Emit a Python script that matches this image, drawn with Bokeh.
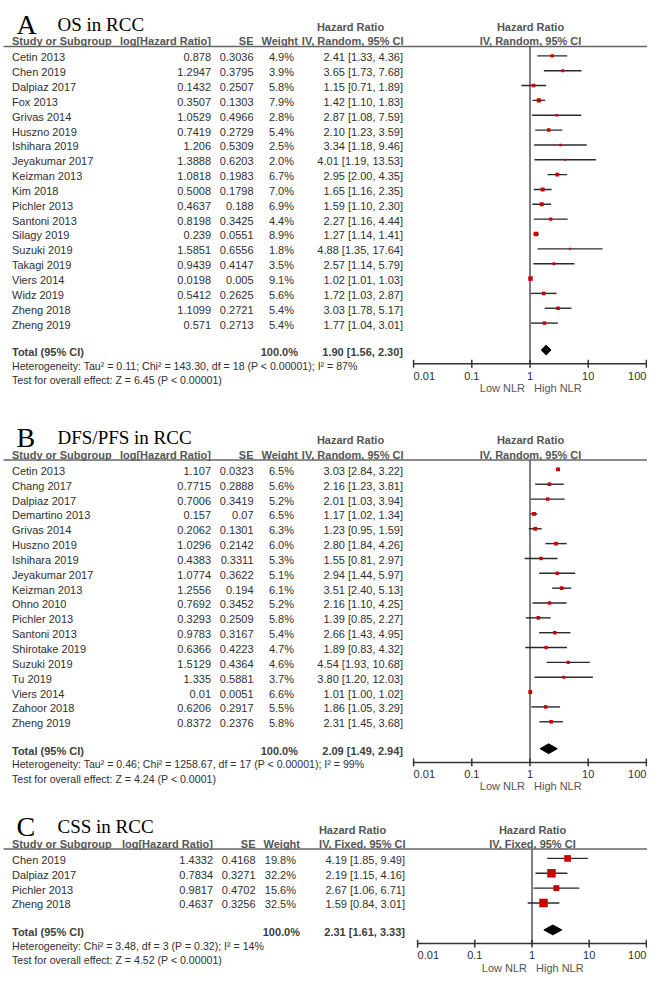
import numpy as np
from bokeh.plotting import figure
from bokeh.models import Range1d, LogScale
from bokeh.core.properties import value
from bokeh.embed import file_html
from bokeh.resources import INLINE

# ---------------- data ----------------
a_study = ["Cetin 2013", "Chen 2019", "Dalpiaz 2017", "Fox 2013", "Grivas 2014", "Huszno 2019",
           "Ishihara 2019", "Jeyakumar 2017", "Keizman 2013", "Kim 2018", "Pichler 2013",
           "Santoni 2013", "Silagy 2019", "Suzuki 2019", "Takagi 2019", "Viers 2014",
           "Widz 2019", "Zheng 2018", "Zheng 2019"]
a_loghr = [0.878, 1.2947, 0.1432, 0.3507, 1.0529, 0.7419, 1.206, 1.3888, 1.0818, 0.5008, 0.4637,
           0.8198, 0.239, 1.5851, 0.9439, 0.0198, 0.5412, 1.1099, 0.571]
a_se = [0.3036, 0.3795, 0.2507, 0.1303, 0.4966, 0.2729, 0.5309, 0.6203, 0.1983, 0.1798, 0.188,
        0.3425, 0.0551, 0.6556, 0.4147, 0.005, 0.2625, 0.2721, 0.2713]
a_weight = [4.9, 3.9, 5.8, 7.9, 2.8, 5.4, 2.5, 2.0, 6.7, 7.0, 6.9, 4.4, 8.9, 1.8, 3.5, 9.1, 5.6, 5.4, 5.4]
a_hr = [2.41, 3.65, 1.15, 1.42, 2.87, 2.10, 3.34, 4.01, 2.95, 1.65, 1.59, 2.27, 1.27, 4.88, 2.57,
        1.02, 1.72, 3.03, 1.77]
a_lo = [1.33, 1.73, 0.71, 1.10, 1.08, 1.23, 1.18, 1.19, 2.00, 1.16, 1.10, 1.16, 1.14, 1.35, 1.14,
        1.01, 1.03, 1.78, 1.04]
a_hi = [4.36, 7.68, 1.89, 1.83, 7.59, 3.59, 9.46, 13.53, 4.35, 2.35, 2.30, 4.44, 1.41, 17.64, 5.79,
        1.03, 2.87, 5.17, 3.01]
a_total = (100.0, 1.90, 1.56, 2.30)
a_het = "Heterogeneity: Tau\u00b2 = 0.11; Chi\u00b2 = 143.30, df = 18 (P < 0.00001); I\u00b2 = 87%"
a_test = "Test for overall effect: Z = 6.45 (P < 0.00001)"

b_study = ["Cetin 2013", "Chang 2017", "Dalpiaz 2017", "Demartino 2013", "Grivas 2014", "Huszno 2019",
           "Ishihara 2019", "Jeyakumar 2017", "Keizman 2013", "Ohno 2010", "Pichler 2013",
           "Santoni 2013", "Shirotake 2019", "Suzuki 2019", "Tu 2019", "Viers 2014",
           "Zahoor 2018", "Zheng 2019"]
b_loghr = [1.107, 0.7715, 0.7006, 0.157, 0.2062, 1.0296, 0.4383, 1.0774, 1.2556, 0.7692, 0.3293,
           0.9783, 0.6366, 1.5129, 1.335, 0.01, 0.6206, 0.8372]
b_se = [0.0323, 0.2888, 0.3419, 0.07, 0.1301, 0.2142, 0.3311, 0.3622, 0.194, 0.3452, 0.2509,
        0.3167, 0.4223, 0.4364, 0.5881, 0.0051, 0.2917, 0.2376]
b_weight = [6.5, 5.6, 5.2, 6.5, 6.3, 6.0, 5.3, 5.1, 6.1, 5.2, 5.8, 5.4, 4.7, 4.6, 3.7, 6.6, 5.5, 5.8]
b_hr = [3.03, 2.16, 2.01, 1.17, 1.23, 2.80, 1.55, 2.94, 3.51, 2.16, 1.39, 2.66, 1.89, 4.54, 3.80,
        1.01, 1.86, 2.31]
b_lo = [2.84, 1.23, 1.03, 1.02, 0.95, 1.84, 0.81, 1.44, 2.40, 1.10, 0.85, 1.43, 0.83, 1.93, 1.20,
        1.00, 1.05, 1.45]
b_hi = [3.22, 3.81, 3.94, 1.34, 1.59, 4.26, 2.97, 5.97, 5.13, 4.25, 2.27, 4.95, 4.32, 10.68, 12.03,
        1.02, 3.29, 3.68]
b_total = (100.0, 2.09, 1.49, 2.94)
b_het = "Heterogeneity: Tau\u00b2 = 0.46; Chi\u00b2 = 1258.67, df = 17 (P < 0.00001); I\u00b2 = 99%"
b_test = "Test for overall effect: Z = 4.24 (P < 0.0001)"

c_study = ["Chen 2019", "Dalpiaz 2017", "Pichler 2013", "Zheng 2018"]
c_loghr = [1.4332, 0.7834, 0.9817, 0.4637]
c_se = [0.4168, 0.3271, 0.4702, 0.3256]
c_weight = [19.8, 32.2, 15.6, 32.5]
c_hr = [4.19, 2.19, 2.67, 1.59]
c_lo = [1.85, 1.15, 1.06, 0.84]
c_hi = [9.49, 4.16, 6.71, 3.01]
c_total = (100.0, 2.31, 1.61, 3.33)
c_het = "Heterogeneity: Chi\u00b2 = 3.48, df = 3 (P = 0.32); I\u00b2 = 14%"
c_test = "Test for overall effect: Z = 4.52 (P < 0.00001)"

tick_vals = [0.01, 0.1, 1, 10, 100]
tick_text = ["0.01", "0.1", "1", "10", "100"]

# ---------------- figure ----------------
X0, X1 = 0, 647
Y0, Y1 = 996, 0
p = figure(width=647, height=976, output_backend="svg", toolbar_location=None,
           x_range=Range1d(X0, X1), y_range=Range1d(Y0, Y1), min_border=0,
           x_axis_location=None, y_axis_location=None)
p.grid.visible = False
p.outline_line_color = None
p.background_fill_color = "white"


def add_log_range(name, cx, dec):
    p.extra_x_ranges[name] = Range1d(10 ** ((X0 - cx) / dec), 10 ** ((X1 - cx) / dec))
    p.extra_x_scales[name] = LogScale()


add_log_range("hrAB", 529.5, 58.2)
add_log_range("hrC", 531.5, 57.2)

SANS = value("Liberation Sans")
SERIF = value("Liberation Serif")
FS = value("11px")
BODY = "#303030"
HEAD = "#555555"
ROW = 15.15


def txt(x, y, t, align="left", bold=False, color=BODY, size=FS, font=SANS, baseline="middle"):
    p.text(x=x, y=y, text=t, text_align=align, text_baseline=baseline,
           text_font=font, text_font_size=size, text_color=color,
           text_font_style="bold" if bold else "normal")


def panel(letter, title, study, loghr, se, weight, hr, lo, hi, total, het, test, method,
          base, rng, dx=0.0):
    # titles
    txt(16, [base + 1], [letter], font=SERIF, size=value("28px"), color="black", baseline="alphabetic")
    txt(57, [base + 1], [title], font=SERIF, size=value("19px"), color="black", baseline="alphabetic")
    h1 = base + 4
    h2 = base + 18.5
    rule = base + 24
    # headers
    txt(350 + dx, [h1], ["Hazard Ratio"], align="center", bold=True, color=HEAD)
    txt(530 + dx, [h1], ["Hazard Ratio"], align="center", bold=True, color=HEAD)
    txt(11.5, [h2], ["Study or Subgroup"], bold=True, color=HEAD)
    txt(210.5 + dx, [h2], ["log[Hazard Ratio]"], align="right", bold=True, color=HEAD)
    txt(253 + dx, [h2], ["SE"], align="right", bold=True, color=HEAD)
    txt(297.5 + dx, [h2], ["Weight"], align="right", bold=True, color=HEAD)
    txt(403 + dx, [h2], ["IV, " + method + ", 95% CI"], align="right", bold=True, color=HEAD)
    txt(530 + dx, [h2], ["IV, " + method + ", 95% CI"], align="center", bold=True, color=HEAD)
    p.segment(x0=3, x1=X1, y0=rule, y1=rule, line_color="#666666", line_width=1.5)

    n = len(study)
    ys = [rule + 11 + i * ROW for i in range(n)]
    txt(11.5, ys, study)
    txt(210.5 + dx, ys, [str(v) for v in loghr], align="right")
    txt(253 + dx, ys, [str(v) for v in se], align="right")
    txt(293.5 + dx, ys, ["%.1f%%" % w for w in weight], align="right")
    txt(402.5 + dx, ys, ["%.2f [%.2f, %.2f]" % t for t in zip(hr, lo, hi)], align="right")

    ty = ys[-1] + 28
    tw, thr, tlo, thi = total
    txt(11.5, [ty], ["Total (95% CI)"], bold=True, color="#404040")
    txt(297.5 + dx, [ty], ["%.1f%%" % tw], align="right", bold=True, color="#404040")
    txt(402.5 + dx, [ty], ["%.2f [%.2f, %.2f]" % (thr, tlo, thi)], align="right", bold=True, color="#404040")
    txt(11.5, [ty + 14], [het], size=value("10.6px"))
    txt(11.5, [ty + 28.5], [test], size=value("10.6px"))

    # forest
    ay = ty + 12
    my = [y - 1.5 for y in ys]
    p.segment(x0=1, x1=1, y0=rule, y1=ay, line_color="#555555", line_width=1.5, x_range_name=rng)
    p.segment(x0=lo, x1=hi, y0=my, y1=my, line_color="#2a2a2a", line_width=1.4, x_range_name=rng)
    sizes = [1.5 * np.sqrt(w) for w in weight]
    p.scatter(x=hr, y=my, size=sizes, marker="square", fill_color="#cc0000", line_color="#cc0000",
              line_width=0, x_range_name=rng)
    dy = ty - 2
    p.patches(xs=[[tlo, thr, thi, thr]], ys=[[dy, dy - 5, dy, dy + 5]], fill_color="black",
              line_color="black", x_range_name=rng)
    # axis
    p.segment(x0=min(tick_vals), x1=max(tick_vals), y0=ay, y1=ay, line_color="#333333",
              line_width=1.5, x_range_name=rng)
    p.segment(x0=tick_vals, x1=tick_vals, y0=ay - 4, y1=ay + 4, line_color="#333333",
              line_width=1.5, x_range_name=rng)
    aligns = ["left"] + ["center"] * (len(tick_vals) - 2) + ["right"]
    for v, t, a in zip(tick_vals, tick_text, aligns):
        p.text(x=[v], y=[ay + 12], text=[t], text_align=a, text_baseline="middle",
               text_font=SANS, text_font_size=FS, text_color=BODY, x_range_name=rng)
    p.text(x=[1], y=[ay + 24.5], text=["Low NLR"], x_offset=-5, text_align="right",
           text_baseline="middle", text_font=SANS, text_font_size=FS, text_color=HEAD,
           x_range_name=rng)
    p.text(x=[1], y=[ay + 24.5], text=["High NLR"], x_offset=4, text_align="left",
           text_baseline="middle", text_font=SANS, text_font_size=FS, text_color=HEAD,
           x_range_name=rng)


panel("A", "OS in RCC", a_study, a_loghr, a_se, a_weight, a_hr, a_lo, a_hi, a_total, a_het, a_test,
      "Random", 23, "hrAB")
panel("B", "DFS/PFS in RCC", b_study, b_loghr, b_se, b_weight, b_hr, b_lo, b_hi, b_total, b_het,
      b_test, "Random", 445, "hrAB")
panel("C", "CSS in RCC", c_study, c_loghr, c_se, c_weight, c_hr, c_lo, c_hi, c_total, c_het,
      c_test, "Fixed", 842, "hrC", dx=2.0)

open("out.html", "w").write(file_html(p, INLINE))
